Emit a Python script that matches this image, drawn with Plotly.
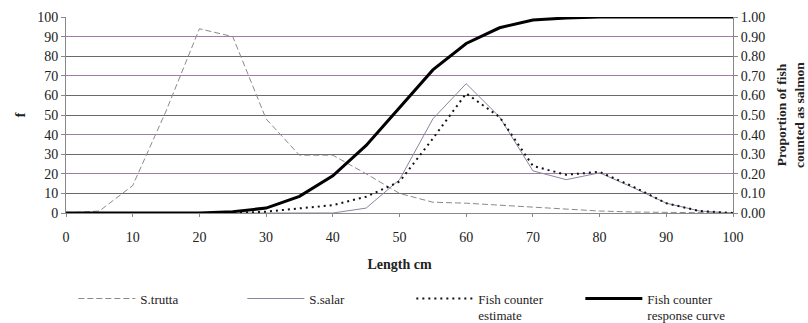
import plotly.graph_objects as go

length_cm = [0, 5, 10, 15, 20, 25, 30, 35, 40, 45, 50, 55, 60, 65, 70, 75, 80, 85, 90, 95, 100]
s_trutta = [0, 1, 14, 52, 94, 90, 48, 29.5, 29.5, 20, 10, 5.5, 5, 4, 3.2, 2, 1, 0.5, 0.3, 0, 0]
s_salar = [0, 0, 0, 0, 0, 0, 0, 0, 0, 2.5, 17, 48, 66, 49, 21.5, 17, 20.5, 13, 5, 1, 0]
counter_estimate = [0, 0, 0, 0, 0, 0, 0.7, 2.4, 4, 8.3, 16, 38, 61, 49, 24, 19.5, 21, 13.5, 5, 1, 0]
response_curve = [0, 0, 0, 0, 0, 0.007, 0.025, 0.085, 0.19, 0.345, 0.54, 0.73, 0.865, 0.945, 0.985, 0.995, 1, 1, 1, 1, 1]

left_ticks = [0, 10, 20, 30, 40, 50, 60, 70, 80, 90, 100]
right_ticks = [0, 0.1, 0.2, 0.3, 0.4, 0.5, 0.6, 0.7, 0.8, 0.9, 1.0]
grey_grid = [10, 30, 50, 60, 80, 100]
purple_grid = [0, 0.2, 0.4, 0.7, 0.9]

FONT = "Times New Roman, Liberation Serif, serif"

fig = go.Figure()
fig.add_trace(go.Scatter(x=length_cm, y=s_trutta, name="S.trutta", mode="lines",
                         line=dict(color="#8a8a8a", width=1, dash="6px,3px")))
fig.add_trace(go.Scatter(x=length_cm, y=s_salar, name="S.salar", mode="lines",
                         line=dict(color="#8e84a0", width=1)))
fig.add_trace(go.Scatter(x=length_cm, y=counter_estimate, name="Fish counter<br>estimate", mode="lines",
                         line=dict(color="#111111", width=2, dash="2px,4px")))
fig.add_trace(go.Scatter(x=length_cm, y=response_curve, name="Fish counter<br>response curve", mode="lines",
                         yaxis="y2", line=dict(color="#000000", width=3)))

fig.update_layout(
    width=808, height=323,
    margin=dict(l=66, r=75, t=17, b=110, autoexpand=False),
    paper_bgcolor="white", plot_bgcolor="white",
    font=dict(family=FONT, size=14, color="#222"),
    showlegend=True,
    legend=dict(orientation="h", x=-0.001, xanchor="left", y=-0.36, yanchor="top",
                indentation=8,
                entrywidth=89, entrywidthmode="pixels", itemwidth=57,
                valign="top", font=dict(family=FONT, size=13, color="#222"),
                bgcolor="rgba(0,0,0,0)", tracegroupgap=0),
    xaxis=dict(range=[0, 100], tickvals=left_ticks, showgrid=False, zeroline=False,
               showline=True, linecolor="#888", linewidth=1,
               ticks="outside", ticklen=3, tickcolor="#888", ticklabelstandoff=8,
               tickfont=dict(family=FONT, size=14),
               title=dict(text="<b>Length cm</b>", font=dict(family=FONT, size=14), standoff=15)),
    yaxis=dict(range=[0, 100], tickvals=left_ticks, showgrid=False, zeroline=False,
               showline=True, linecolor="#888", linewidth=1,
               ticks="outside", ticklen=4, tickcolor="#888",
               tickfont=dict(family=FONT, size=14),
               minor=dict(tickmode="array", tickvals=grey_grid, showgrid=True,
                          gridcolor="#6a6a6a", gridwidth=1),
               title=dict(text="<b>f</b>", font=dict(family=FONT, size=14), standoff=8)),
    yaxis2=dict(range=[0, 1], tickvals=right_ticks, tickformat=".2f", overlaying="y", side="right",
                showgrid=False, zeroline=False,
                showline=True, linecolor="#888", linewidth=1,
                ticks="outside", ticklen=4, tickcolor="#888",
                tickfont=dict(family=FONT, size=14),
                minor=dict(tickmode="array", tickvals=purple_grid, showgrid=True,
                           gridcolor="#a27aa6", gridwidth=1),
                title=dict(text="<b>Proportion of fish<br>counted as salmon</b>",
                           font=dict(family=FONT, size=13.5), standoff=12)),
)

fig.write_html("out.html")
